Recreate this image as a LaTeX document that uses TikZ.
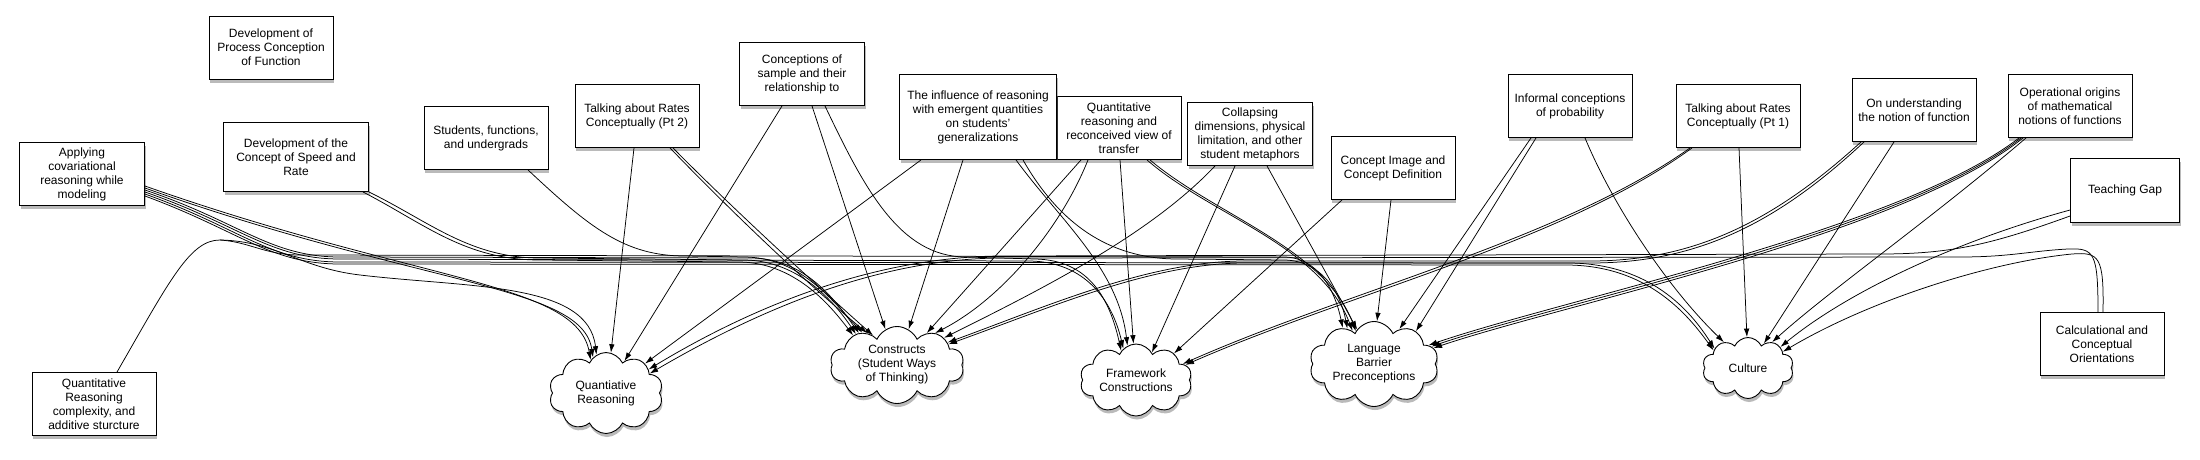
\documentclass[tikz,border=0pt]{standalone}
\usepackage{fontspec}
\setmainfont{Liberation Sans}
\usetikzlibrary{shapes.symbols,shadows,arrows.meta}
\begin{document}
\begin{tikzpicture}[x=1pt,y=-1pt,
  box/.style={draw, line width=0.9pt, fill=white, align=center,
    minimum width=124pt, minimum height=63pt, inner sep=2pt,
    font=\fontsize{12}{14}\selectfont,
    drop shadow={shadow xshift=1pt,shadow yshift=-3.5pt,opacity=0.45,fill=black!60}},
  cld/.style={cloud, cloud puffs=10, cloud puff arc=130, cloud ignores aspect,
    draw, line width=0.9pt, fill=white, align=center, inner sep=0pt,
    font=\fontsize{12}{14}\selectfont,
    drop shadow={shadow xshift=1pt,shadow yshift=-3.5pt,opacity=0.45,fill=black!60}},
  lnk/.style={draw, line width=0.75pt, -{Latex[length=8.5pt,width=5.5pt]}}
]
\useasboundingbox[fill=white] (0,0) rectangle (2200,460);

% boxes
\node[box] (DP) at (271,47.5) {Development of\\Process Conception\\of Function};
\node[box, minimum width=125pt] (A) at (82,174) {Applying\\covariational\\reasoning while\\modeling};
\node[box, minimum width=145pt, minimum height=69pt] (DS) at (296,157) {Development of the\\Concept of Speed and\\Rate};
\node[box] (ST) at (486,138) {Students, functions,\\and undergrads};
\node[box] (TP2) at (637,116) {Talking about Rates\\Conceptually (Pt 2)};
\node[box, minimum width=125pt] (CS) at (802,74) {Conceptions of\\sample and their\\relationship to};
\node[box] (QRR) at (1119,128) {Quantitative\\reasoning and\\reconceived view of\\transfer};
\node[box, minimum width=157pt, minimum height=85pt] (INF) at (978,117) {The influence of reasoning\\with emergent quantities\\on students'\\generalizations};
\node[box, minimum width=125pt] (COL) at (1250,134) {Collapsing\\dimensions, physical\\limitation, and other\\student metaphors};
\node[box] (CI) at (1393,168) {Concept Image and\\Concept Definition};
\node[box] (INFO) at (1570,106) {Informal conceptions\\of probability};
\node[box] (TP1) at (1738,116) {Talking about Rates\\Conceptually (Pt 1)};
\node[box] (ONU) at (1914,110) {On understanding\\the notion of function};
\node[box] (OP) at (2070,106) {Operational origins\\of mathematical\\notions of functions};
\node[box, minimum width=109pt, minimum height=64pt] (TG) at (2125,190) {Teaching Gap};
\node[box] (CALC) at (2102,344) {Calculational and\\Conceptual\\Orientations};
\node[box] (QC) at (94,404) {Quantitative\\Reasoning\\complexity, and\\additive sturcture};

% clouds
\node[cld, minimum width=114pt, minimum height=81pt] (QR) at (606,393) {Quantiative\\Reasoning};
\node[cld, minimum width=134pt, minimum height=77pt] (CON) at (897,365) {Constructs\\(Student Ways\\of Thinking)};
\node[cld, minimum width=112pt, minimum height=72pt] (FW) at (1136,380) {Framework\\Constructions};
\node[cld, minimum width=129pt, minimum height=85pt] (LB) at (1374,364) {Language\\Barrier\\Preconceptions};
\node[cld, minimum width=91pt, minimum height=61pt] (CUL) at (1748,368) {Culture};

% ---- into Quantiative Reasoning
\draw[lnk] ([yshift=-12pt]A.east) .. controls (420,283) and (577,282) .. (QR.115);
\draw[lnk] ([yshift=-14pt]A.east) .. controls (420,286) and (582,285) .. (QR.110);
\draw[lnk] ([xshift=23pt]QC.north) .. controls (170,280) and (190,240) .. (220,240)
   .. controls (275,241) and (300,268) .. (360,275) .. controls (470,288) and (588,282) .. (QR.104);
\draw[lnk] ([xshift=-3pt]TP2.south) -- (QR.83);
\draw[lnk] ([xshift=-20pt]CS.south) -- (QR.60);
\draw[lnk] ([xshift=-57pt]INF.south) -- (QR.37);
\draw[lnk] ([yshift=-26pt]TG.west) .. controls (1990,245) and (1950,254) .. (1880,254)
   -- (1000,256) .. controls (880,257) and (760,302) .. (QR.29);
\draw[lnk] ([xshift=-4pt]CALC.north) .. controls (2098,252) and (2094,248) .. (2068,249)
   .. controls (2030,251) and (2010,257) .. (1960,257) -- (1000,258)
   .. controls (882,259) and (765,306) .. (QR.24);

% ---- into Constructs
\draw[lnk] ([yshift=-16pt]A.east) .. controls (240,222) and (270,257) .. (340,257)
   -- (750,258) .. controls (805,258) and (835,300) .. (CON.140);
\draw[lnk] (DS.south east) .. controls (430,222) and (470,258) .. (540,258)
   -- (745,260) .. controls (800,261) and (835,303) .. (CON.143);
\draw[lnk] ([xshift=-6pt]DS.south east) .. controls (425,224) and (465,260) .. (540,260)
   -- (740,262) .. controls (795,263) and (830,305) .. (CON.146);
\draw[lnk] ([xshift=42pt]ST.south) .. controls (590,228) and (625,256) .. (685,256)
   -- (745,257) .. controls (800,258) and (830,298) .. (CON.137);
\draw[lnk] ([xshift=33pt]TP2.south) .. controls (720,200) and (800,278) .. (CON.133);
\draw[lnk] ([xshift=36pt]TP2.south) .. controls (724,200) and (806,276) .. (CON.129);
\draw[lnk] ([xshift=10pt]CS.south) -- (CON.108);
\draw[lnk] ([xshift=-15pt]INF.south) -- (CON.72);
\draw[lnk] ([xshift=-38pt]QRR.south) -- (CON.47);
\draw[lnk] ([xshift=-31pt]QRR.south) .. controls (1060,230) and (1000,300) .. (CON.40);
\draw[lnk] ([xshift=-35pt]COL.south) .. controls (1150,235) and (1040,290) .. (CON.30);
\draw[lnk] ([xshift=-53pt]ONU.south) .. controls (1770,225) and (1690,261) .. (1590,261)
   -- (1245,261) .. controls (1150,261) and (1050,305) .. (CON.24);
\draw[lnk] ([xshift=-50pt]ONU.south) .. controls (1773,227) and (1693,263) .. (1590,263)
   -- (1245,263) .. controls (1152,263) and (1052,307) .. (CON.22);

% ---- into Framework Constructions
\draw[lnk] ([yshift=-18pt]A.east) .. controls (240,225) and (270,259) .. (340,259)
   -- (1030,261) .. controls (1085,262) and (1112,300) .. (FW.112);
\draw[lnk] ([xshift=23pt]CS.south) .. controls (865,190) and (900,256) .. (965,257)
   -- (1035,259) .. controls (1090,260) and (1110,300) .. (FW.117);
\draw[lnk] ([xshift=38pt]INF.south) .. controls (1060,220) and (1118,268) .. (FW.104);
\draw[lnk] ([xshift=1pt]QRR.south) -- (FW.94);
\draw[lnk] ([xshift=-15pt]COL.south) -- (FW.60);
\draw[lnk] ([xshift=-51pt]CI.south) -- (FW.35);
\draw[lnk] ([xshift=-48pt]TP1.south) .. controls (1560,240) and (1350,290) .. (FW.19);
\draw[lnk] ([xshift=-46pt]TP1.south) .. controls (1563,242) and (1352,292) .. (FW.17);

% ---- into Language Barrier Preconceptions
\draw[lnk] ([xshift=45pt]INF.south) .. controls (1060,225) and (1110,258) .. (1175,259)
   -- (1285,260) .. controls (1320,261) and (1340,290) .. (LB.127);
\draw[lnk] ([xshift=28pt]QRR.south) .. controls (1210,215) and (1320,245) .. (LB.123);
\draw[lnk] ([xshift=31pt]QRR.south) .. controls (1215,215) and (1325,248) .. (LB.119);
\draw[lnk] ([xshift=17pt]COL.south) -- (LB.116);
\draw[lnk] ([xshift=-2pt]CI.south) -- (LB.86);
\draw[lnk] ([xshift=-39pt]INFO.south) -- (LB.54);
\draw[lnk] ([xshift=-34pt]INFO.south) -- (LB.38);
\draw[lnk] ([xshift=-51pt]OP.south) .. controls (1900,230) and (1560,300) .. (LB.19);
\draw[lnk] ([xshift=-49pt]OP.south) .. controls (1902,232) and (1562,302) .. (LB.17);
\draw[lnk] ([xshift=-47pt]OP.south) .. controls (1904,234) and (1564,304) .. (LB.15);
\draw[lnk] (220,240) .. controls (250,242) and (265,255) .. (300,255)
   -- (1285,257) .. controls (1318,258) and (1335,290) .. (LB.131);

% ---- into Culture
\draw[lnk] ([yshift=-20pt]A.east) .. controls (240,228) and (270,262) .. (340,262)
   -- (1570,263) .. controls (1650,264) and (1690,310) .. (CUL.150);
\draw[lnk] ([yshift=-22pt]A.east) .. controls (240,231) and (270,264) .. (340,264)
   -- (1568,265) .. controls (1646,266) and (1686,312) .. (CUL.153);
\draw[lnk] ([xshift=15pt]INFO.south) .. controls (1615,210) and (1670,290) .. (CUL.133);
\draw[lnk] ([xshift=1pt]TP1.south) -- (CUL.92);
\draw[lnk] ([xshift=-20pt]ONU.south) -- (CUL.57);
\draw[lnk] ([xshift=-44pt]OP.south) .. controls (1930,220) and (1830,290) .. (CUL.47);
\draw[lnk] ([yshift=-20pt]TG.west) .. controls (1960,240) and (1850,290) .. (CUL.33);
\draw[lnk] ([xshift=1pt]CALC.north) .. controls (2104,256) and (2099,252) .. (2072,254)
   .. controls (1990,262) and (1870,300) .. (CUL.25);
\end{tikzpicture}
\end{document}
